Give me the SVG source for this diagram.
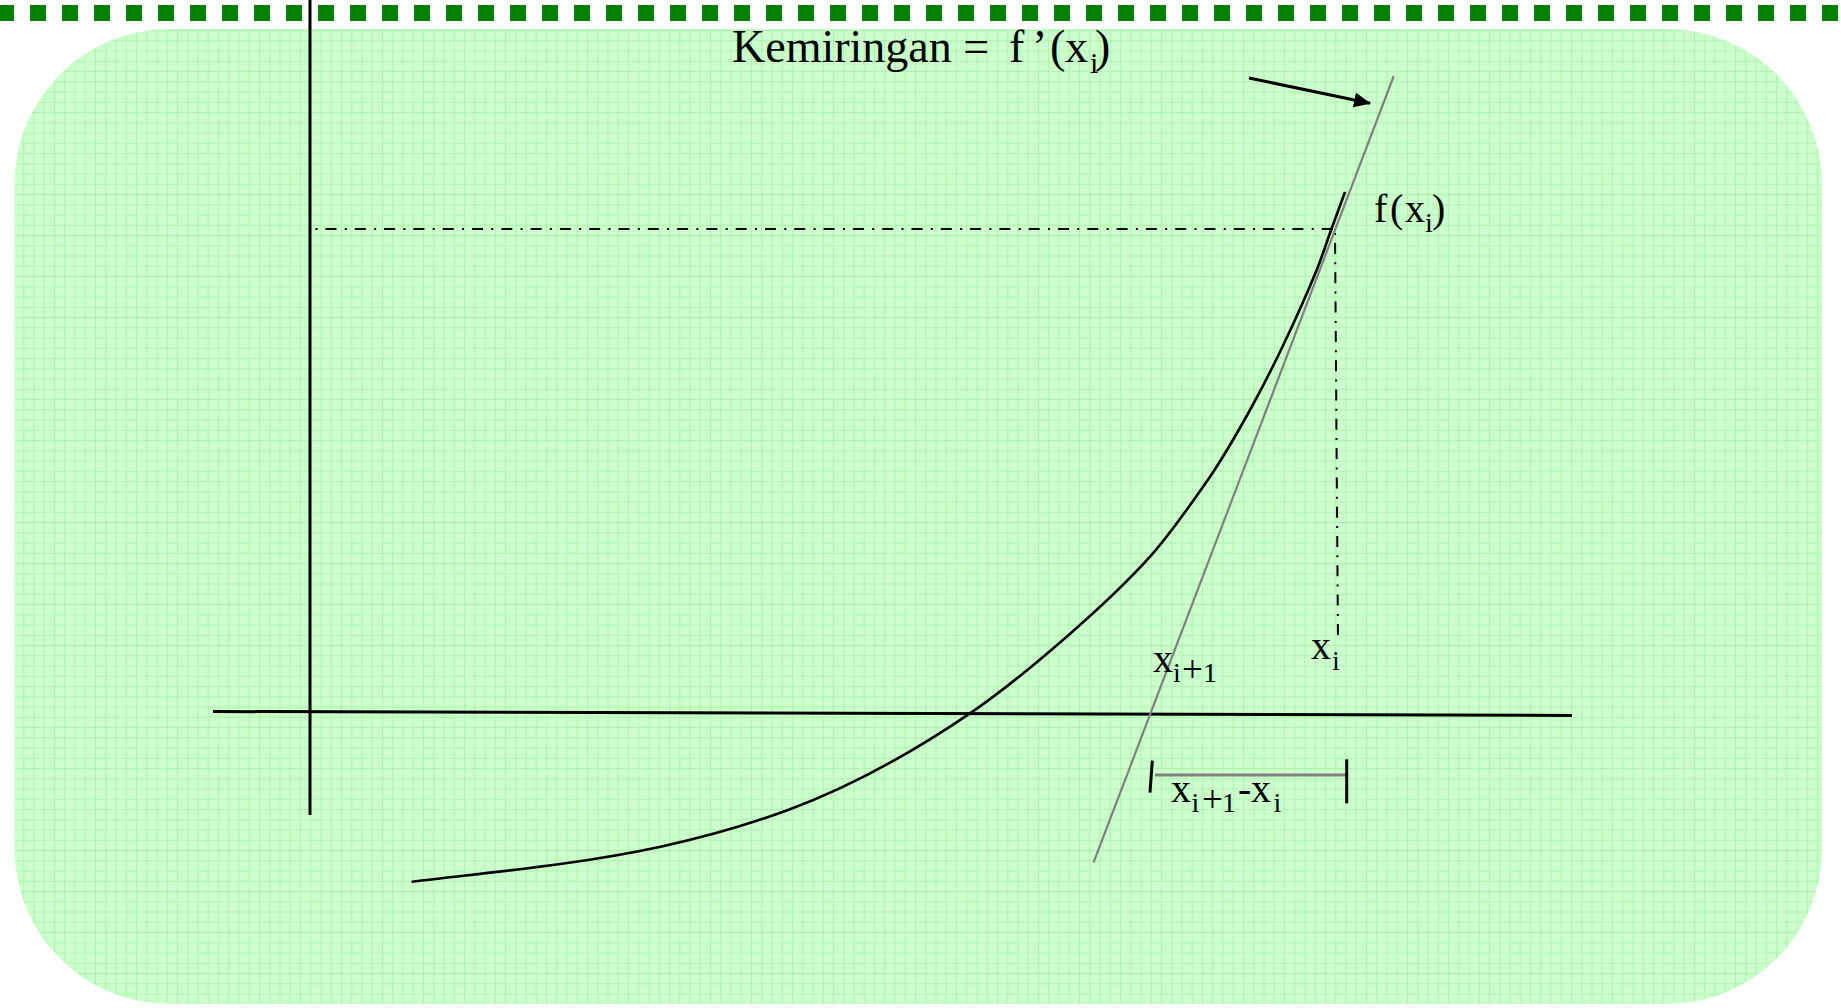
<svg xmlns="http://www.w3.org/2000/svg" width="1841" height="1008" viewBox="0 0 1841 1008">
  <defs>
    <pattern id="grid" patternUnits="userSpaceOnUse" x="2.75" y="9.55" width="10.25" height="10.25">
      <rect width="10.25" height="10.25" fill="#ccffcc"/>
      <rect x="0" y="0" width="1" height="10.25" fill="#adf3ad"/>
      <rect x="0" y="0" width="10.25" height="1" fill="#adf3ad"/>
    </pattern>
    <marker id="arrowhead" markerUnits="userSpaceOnUse" markerWidth="18" markerHeight="16" refX="16" refY="7.5" orient="auto">
      <path d="M0,0 L17,7.5 L0,15 Z" fill="#000"/>
    </marker>
  </defs>
  <style>
    .lbl { font-family: "Liberation Serif", "Times New Roman", serif; fill: #000; }
    .axis { stroke: #000; stroke-width: 3; fill: none; }
    .guide { stroke: #000; stroke-width: 2; fill: none; stroke-dasharray: 2 8 11 8.3; }
    .tick { stroke: #000; stroke-width: 3; fill: none; }
  </style>

  <rect width="1841" height="1008" fill="#ffffff"/>

  <g id="top-border">
    <line x1="-2" y1="13" x2="1845" y2="13" stroke="#008000" stroke-width="16" stroke-dasharray="16 16"/>
  </g>

  <g id="background">
    <rect x="14.5" y="29" width="1807.5" height="975" rx="155" ry="155" fill="url(#grid)"/>
  </g>

  <g id="axes">
    <line class="axis" x1="310" y1="0" x2="310" y2="815"/>
    <line class="axis" x1="213" y1="711.5" x2="1572" y2="715.5"/>
  </g>

  <g id="guides">
    <line class="guide" x1="315.5" y1="229" x2="1333" y2="229"/>
    <line class="guide" x1="1335" y1="233" x2="1338" y2="640"/>
  </g>

  <g id="curve">
    <path d="M411.6,881.7 C494.6,871.74 577.6,864.63 660.6,846.7 C703.07,837.53 745.53,825.71 788,810 C848.67,787.55 909.33,754.55 970,713.3 C1002.23,691.38 1034.47,664.74 1066.7,636.7 C1094.47,612.54 1122.23,587.8 1150,556.7 C1170,534.3 1190,505.7 1210,476.7 C1223.33,457.37 1236.67,434 1250,410 C1261.1,390.02 1272.2,368.31 1283.3,345 C1294.43,321.63 1305.57,297.27 1316.7,270 C1321.7,257.75 1326.7,242.05 1331.7,228.3 C1336.13,216.12 1340.57,204.4 1345,192" fill="none" stroke="#000" stroke-width="2.6"/>
  </g>

  <g id="tangent">
    <line x1="1093.5" y1="862.7" x2="1393.8" y2="76" stroke="#808080" stroke-width="2.2"/>
  </g>

  <g id="connectors">
    <line x1="1249" y1="78" x2="1370" y2="103.3" stroke="#000" stroke-width="3" marker-end="url(#arrowhead)"/>
  </g>

  <g id="bracket">
    <line x1="1155" y1="775" x2="1348" y2="775" stroke="#808080" stroke-width="3"/>
    <line class="tick" x1="1152.3" y1="760.7" x2="1150" y2="792.7"/>
    <line class="tick" x1="1346.7" y1="759.3" x2="1346.7" y2="803.3"/>
  </g>

  <g id="label-slope">
    <text class="lbl" font-size="46"><tspan x="732" y="62">Kemiringan =</tspan><tspan x="1009" y="62">f</tspan><tspan x="1032" y="62">’</tspan><tspan x="1050" y="62">(</tspan><tspan x="1065" y="62">x</tspan><tspan x="1090" y="73" font-size="30">i</tspan><tspan x="1095" y="62">)</tspan></text>
  </g>

  <g id="label-fxi">
    <text class="lbl" font-size="40"><tspan x="1374" y="222">f</tspan><tspan x="1390" y="222">(</tspan><tspan x="1405" y="222">x</tspan><tspan x="1425" y="232" font-size="28">i</tspan><tspan x="1432" y="222">)</tspan></text>
  </g>

  <g id="label-xi">
    <text class="lbl" font-size="40"><tspan x="1311" y="659">x</tspan><tspan x="1332" y="670" font-size="28">i</tspan></text>
  </g>

  <g id="label-xi1">
    <text class="lbl" font-size="40"><tspan x="1153" y="671.5">x</tspan><tspan x="1173" y="681.7" font-size="28">i</tspan><tspan x="1182" y="681.7" font-size="37">+</tspan><tspan x="1203" y="681.7" font-size="28">1</tspan></text>
  </g>

  <g id="label-diff">
    <text class="lbl" font-size="40"><tspan x="1171" y="801.7">x</tspan><tspan x="1191.5" y="811.7" font-size="28">i</tspan><tspan x="1202" y="811.7" font-size="37">+</tspan><tspan x="1222" y="811.7" font-size="28">1</tspan><tspan x="1238" y="801.7">-</tspan><tspan x="1251" y="801.7">x</tspan><tspan x="1273.5" y="811.7" font-size="28">i</tspan></text>
  </g>
</svg>
